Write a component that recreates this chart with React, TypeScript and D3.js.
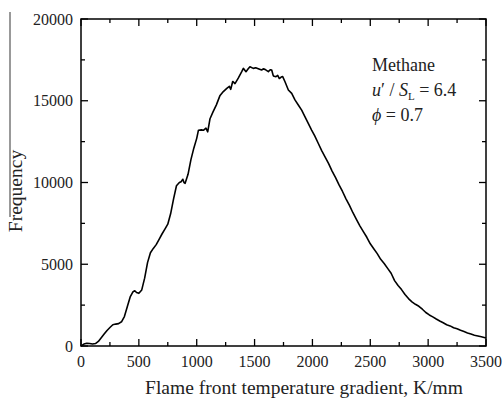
import React from "react";
import * as d3 from "d3";

const gradient = [
  0, 25, 50, 75, 100, 125, 150, 175, 200, 225, 250, 275, 300, 325, 350, 375, 400, 425, 450, 465, 480, 500,
  525, 550, 575, 600, 625, 650, 675, 700, 725, 750, 775, 800, 825, 850, 865, 880, 890, 900, 925, 950, 975,
  1000, 1015, 1040, 1060, 1080, 1095, 1115, 1140, 1170, 1200, 1230, 1260, 1282, 1294, 1311, 1331, 1359,
  1389, 1403, 1426, 1445, 1460, 1489, 1510, 1532, 1561, 1575, 1590, 1619, 1635, 1648, 1662, 1685, 1700,
  1714, 1730, 1743, 1763, 1792, 1821, 1849, 1878, 1907, 1936, 1964, 1993, 2020, 2050, 2080, 2110, 2140,
  2170, 2200, 2230, 2260, 2290, 2320, 2350, 2380, 2410, 2440, 2470, 2500, 2530, 2560, 2590, 2620, 2650,
  2680, 2710, 2740, 2770, 2800, 2830, 2860, 2890, 2920, 2950, 2980, 3010, 3040, 3070, 3100, 3130, 3160,
  3190, 3220, 3250, 3280, 3310, 3340, 3370, 3400, 3430, 3460, 3500,
];

const frequency = [
  0, 120, 170, 150, 120, 150, 280, 500, 730, 950, 1130, 1300, 1340, 1370, 1480, 1800, 2400, 3000, 3320,
  3380, 3270, 3220, 3430, 4150, 5100, 5700, 5970, 6200, 6520, 6850, 7150, 7450, 8100, 9000, 9800, 10000,
  10050, 10200, 10000, 9950, 10500, 11400, 12100, 12700, 13200, 13220, 13200, 13320, 13100, 13900, 14300,
  14750, 15300, 15560, 15760, 15880, 15700, 16180, 16050, 16380, 16780, 16980, 16780, 16950, 17080, 16980,
  17020, 16960, 16880, 16950, 16920, 16780, 16900, 16880, 16520, 16470, 16550, 16360, 16450, 16480, 16160,
  15660, 15450, 15050, 14740, 14430, 14020, 13620, 13210, 12850, 12400, 11950, 11550, 11150, 10700, 10300,
  9850, 9450, 9000, 8600, 8150, 7750, 7350, 7000, 6650, 6250, 5950, 5650, 5300, 5050, 4750, 4450, 4000,
  3700, 3450, 3150, 2900, 2700, 2550, 2430, 2250, 2050, 1900, 1780, 1650, 1530, 1420, 1300, 1230, 1120,
  1050, 960, 880, 800, 730, 660, 610, 560, 490,
];

const xMajorTicks = [0, 500, 1000, 1500, 2000, 2500, 3000, 3500];
const xMinorTicks = [250, 750, 1250, 1750, 2250, 2750, 3250];
const yMajorTicks = [0, 5000, 10000, 15000, 20000];
const yMinorTicks = [2500, 7500, 12500, 17500];

const xTitle = "Flame front temperature gradient, K/mm";
const yTitle = "Frequency";

export default function App() {
  const left = 81, right = 486, top = 19, bottom = 346;
  const x = d3.scaleLinear().domain([0, 3500]).range([left, right]);
  const y = d3.scaleLinear().domain([0, 20000]).range([bottom, top]);
  const line = d3
    .line<number>()
    .x((_, i) => x(gradient[i]))
    .y((d) => y(d));
  const font = "'Liberation Serif', 'Times New Roman', serif";
  const major = 7, minor = 4;

  return (
    <svg width={504} height={401} style={{ position: "absolute", left: 0, top: 0, background: "#fff" }}>
      <rect x={0} y={0} width={504} height={401} fill="#fff" />
      <rect x={left} y={top} width={right - left} height={bottom - top} fill="none" stroke="#000" strokeWidth={1.5} />
      {xMajorTicks.map((t) => (
        <g key={"xm" + t}>
          <line x1={x(t)} x2={x(t)} y1={bottom} y2={bottom - major} stroke="#000" strokeWidth={1.3} />
          <line x1={x(t)} x2={x(t)} y1={top} y2={top + major} stroke="#000" strokeWidth={1.3} />
          <text x={x(t)} y={367} fontFamily={font} fontSize={16} textAnchor="middle" fill="#222">
            {t}
          </text>
        </g>
      ))}
      {xMinorTicks.map((t) => (
        <g key={"xn" + t}>
          <line x1={x(t)} x2={x(t)} y1={bottom} y2={bottom - minor} stroke="#000" strokeWidth={1.3} />
          <line x1={x(t)} x2={x(t)} y1={top} y2={top + minor} stroke="#000" strokeWidth={1.3} />
        </g>
      ))}
      {yMajorTicks.map((t) => (
        <g key={"ym" + t}>
          <line x1={left} x2={left + major} y1={y(t)} y2={y(t)} stroke="#000" strokeWidth={1.3} />
          <line x1={right} x2={right - major} y1={y(t)} y2={y(t)} stroke="#000" strokeWidth={1.3} />
          <text x={73} y={y(t) + 5.5} fontFamily={font} fontSize={16} textAnchor="end" fill="#222">
            {t}
          </text>
        </g>
      ))}
      {yMinorTicks.map((t) => (
        <g key={"yn" + t}>
          <line x1={left} x2={left + minor} y1={y(t)} y2={y(t)} stroke="#000" strokeWidth={1.3} />
          <line x1={right} x2={right - minor} y1={y(t)} y2={y(t)} stroke="#000" strokeWidth={1.3} />
        </g>
      ))}
      <path d={line(frequency) || ""} fill="none" stroke="#000" strokeWidth={1.6} strokeLinejoin="round" />
      <text x={304} y={394} fontFamily={font} fontSize={19.5} textAnchor="middle" fill="#222">
        {xTitle}
      </text>
      <line x1={10} x2={10} y1={12} y2={217} stroke="#555" strokeWidth={1.2} />
      <text
        transform="translate(22,191) rotate(-90)"
        fontFamily={font}
        fontSize={19.5}
        textAnchor="middle"
        fill="#222"
      >
        {yTitle}
      </text>
      <g fontFamily={font} fontSize={18} fill="#222">
        <text x={372} y={71}>Methane</text>
        <text x={372} y={96}>
          <tspan fontStyle="italic">u</tspan>
          <tspan>′ / </tspan>
          <tspan fontStyle="italic">S</tspan>
          <tspan fontSize={11} dy={4}>L</tspan>
          <tspan dy={-4}> = 6.4</tspan>
        </text>
        <text x={372} y={121}>
          <tspan fontStyle="italic">ϕ</tspan>
          <tspan> = 0.7</tspan>
        </text>
      </g>
    </svg>
  );
}
